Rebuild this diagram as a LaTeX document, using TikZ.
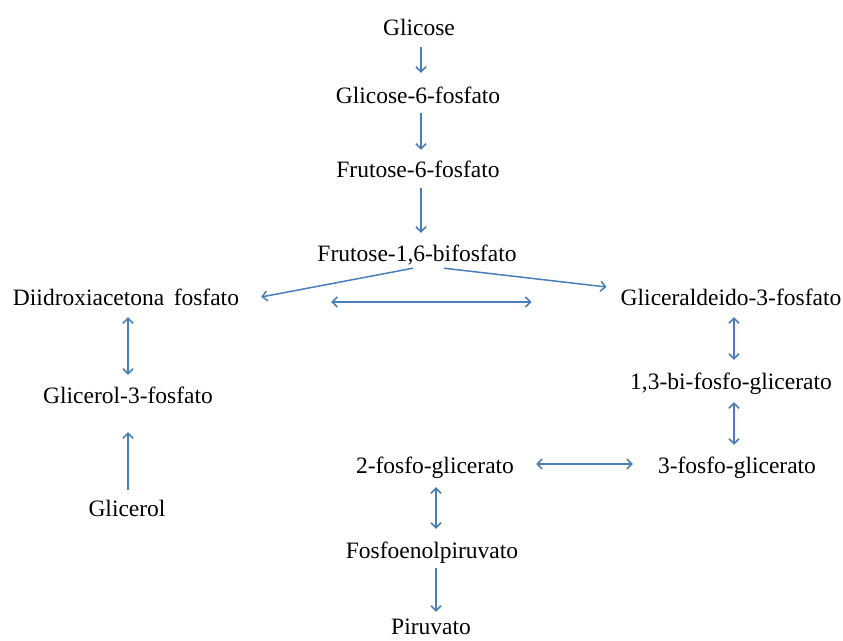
\documentclass[tikz,border=0pt]{standalone}
\usepackage{fontspec}
\setmainfont{Liberation Serif}
\usetikzlibrary{arrows.meta,calc}
\definecolor{arrowblue}{HTML}{4A7EBB}
\tikzset{
  lbl/.style={anchor=base,inner sep=0pt,text height=16pt,text depth=5pt,font=\fontsize{23.5}{28}\selectfont},
  arr/.style={draw=arrowblue,line width=1.5pt,-{Straight Barb[length=5pt,width=10pt]}},
  darr/.style={draw=arrowblue,line width=1.5pt,{Straight Barb[length=5pt,width=10pt]}-{Straight Barb[length=5pt,width=10pt]}}
}
\begin{document}
\begin{tikzpicture}[x=1pt,y=-1pt]
\useasboundingbox (0,0) rectangle (843,640);
\node[lbl] (glic) at (419,35) {Glicose};
\node[lbl] (g6p) at (418,103) {Glicose-6-fosfato};
\node[lbl] (f6p) at (418,177) {Frutose-6-fosfato};
\node[lbl] (f16) at (417,261) {Frutose-1,6-bifosfato};
\node[lbl] (dhap) at (126,305) {Diidroxiacetona\hspace{0.4em}fosfato};
\node[lbl] (gap) at (731,305) {Gliceraldeido-3-fosfato};
\node[lbl] (g3p) at (128,403) {Glicerol-3-fosfato};
\node[lbl] (bpg) at (731,389) {1,3-bi-fosfo-glicerato};
\node[lbl] (pg3) at (737,473) {3-fosfo-glicerato};
\node[lbl] (pg2) at (435,473) {2-fosfo-glicerato};
\node[lbl] (glicerol) at (127,516) {Glicerol};
\node[lbl] (pep) at (432,558) {Fosfoenolpiruvato};
\node[lbl,text depth=0pt] (pir) at (431,634) {Piruvato};

\draw[arr] ($(glic.south)+(2,7)$) -- ($(g6p.north)+(3,-14)$);
\draw[arr] ($(g6p.south)+(3,5)$) -- ($(f6p.north)+(3,-11)$);
\draw[arr] ($(f6p.south)+(3,6)$) -- ($(f16.north)+(4,-12)$);
\draw[arr] ($(f16.south)+(-4,2)$) -- ($(dhap.east)+(22,-2.5)$);
\draw[arr] ($(f16.south)+(27,2)$) -- ($(gap.west)+(-14,-12.5)$);
\draw[darr] ($(dhap.east)+(92,2.5)$) -- ($(gap.west)+(-89,2.5)$);
\draw[darr] ($(dhap.south)+(2,7)$) -- ($(g3p.north)+(0,-12)$);
\draw[arr] ($(glicerol.north)+(1,-10)$) -- ($(g3p.south)+(0,24)$);
\draw[darr] ($(gap.south)+(3,7)$) -- ($(bpg.north)+(3,-13)$);
\draw[darr] ($(bpg.south)+(3,8)$) -- ($(pg3.north)+(-3,-12)$);
\draw[darr] ($(pg2.east)+(22,-3.5)$) -- ($(pg3.west)+(-25,-3.5)$);
\draw[darr] ($(pg2.south)+(1,9)$) -- ($(pep.north)+(4,-13)$);
\draw[arr] ($(pep.south)+(4,5)$) -- ($(pir.north)+(5,-6)$);
\end{tikzpicture}
\end{document}
